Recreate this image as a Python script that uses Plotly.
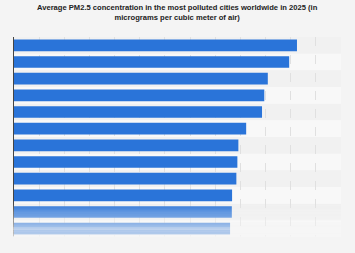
import plotly.graph_objects as go

ranks = ["1", "2", "3", "4", "5", "6", "7", "8", "9", "10", "11", "12"]
pm25 = [112.5, 109.4, 100.9, 99.5, 98.6, 92.3, 89.2, 88.8, 88.4, 86.7, 86.6, 85.9]

title_text = ("Average PM2.5 concentration in the most polluted cities worldwide in 2025 (in"
              "<br>micrograms per cubic meter of air)")

fig = go.Figure()
fig.add_trace(go.Bar(
    x=pm25, y=ranks, orientation="h",
    marker=dict(color="#2a74d9", line=dict(width=0)),
    hoverinfo="skip",
))

shapes = []
# alternating row bands
for i, r in enumerate(ranks):
    shapes.append(dict(type="rect", xref="paper", yref="y", x0=0, x1=1,
                       y0=i - 0.5, y1=i + 0.5, layer="below", line=dict(width=0),
                       fillcolor="#f1f1f1" if i % 2 == 0 else "#f8f8f8"))
# bottom fade overlay
n = 30
y_start, y_end = 0.17, 0.0
for k in range(n):
    t0 = y_start - (y_start - y_end) * k / n
    t1 = y_start - (y_start - y_end) * (k + 1) / n
    op = min(1.0, ((k + 0.5) / n) ** 0.9 * 0.92)
    shapes.append(dict(type="rect", xref="paper", yref="paper", x0=-0.01, x1=1.0,
                       y0=t1, y1=t0, layer="above", line=dict(width=0),
                       fillcolor="#f5f5f5", opacity=op))

fig.update_layout(
    width=355, height=253,
    margin=dict(l=14, r=14, t=37, b=16),
    paper_bgcolor="#f4f4f4",
    plot_bgcolor="#f5f5f5",
    bargap=0.3,
    showlegend=False,
    shapes=shapes,
    annotations=[dict(text="<b>" + title_text + "</b>", xref="paper", yref="paper",
                      x=0.5, y=1.12, xanchor="center", yanchor="middle",
                      showarrow=False, align="center",
                      font=dict(family="Liberation Sans, Arial", size=7.6, color="#222222"))],
    xaxis=dict(range=[0, 130], dtick=10, showticklabels=False, showgrid=True,
               gridcolor="#e0e0e0", griddash="dash", gridwidth=1, zeroline=False,
               fixedrange=True),
    yaxis=dict(autorange="reversed", showticklabels=False, showgrid=False,
               showline=True, linecolor="#444444", linewidth=1, ticks="",
               fixedrange=True),
)

fig.write_html("out.html")
